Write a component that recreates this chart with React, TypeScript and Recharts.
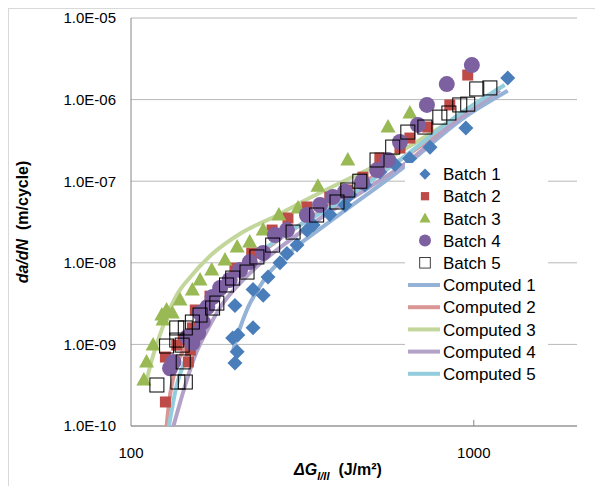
import {
  ScatterChart,
  Scatter,
  XAxis,
  YAxis,
  CartesianGrid,
  Legend,
  ReferenceLine,
} from 'recharts';

// measured points, dG (J/m2) vs da/dN (m/cycle)
const batch1 = [
  { x: 201, y: 5.9e-10 }, { x: 204, y: 8.1e-10 }, { x: 198, y: 1.2e-9 }, { x: 205, y: 1.3e-9 },
  { x: 227, y: 1.6e-9 }, { x: 201, y: 3.0e-9 }, { x: 227, y: 4.7e-9 }, { x: 243, y: 4.0e-9 },
  { x: 251, y: 6.7e-9 }, { x: 272, y: 1.0e-8 }, { x: 285, y: 1.3e-8 }, { x: 305, y: 1.65e-8 },
  { x: 326, y: 2.5e-8 }, { x: 340, y: 2.9e-8 }, { x: 380, y: 3.9e-8 }, { x: 421, y: 5.1e-8 },
  { x: 435, y: 6.8e-8 }, { x: 481, y: 9.0e-8 }, { x: 532, y: 1.3e-7 }, { x: 589, y: 1.6e-7 },
  { x: 650, y: 1.9e-7 }, { x: 745, y: 2.6e-7 }, { x: 948, y: 4.5e-7 }, { x: 1256, y: 1.84e-6 },
];

const batch2 = [
  { x: 126, y: 1.97e-10 }, { x: 126, y: 7.0e-10 }, { x: 132, y: 6.1e-10 }, { x: 136, y: 9.8e-10 },
  { x: 142, y: 1.13e-9 }, { x: 147, y: 6.1e-10 }, { x: 149, y: 8.5e-10 }, { x: 151, y: 1.59e-9 },
  { x: 154, y: 2.64e-9 }, { x: 170, y: 3.9e-9 }, { x: 201, y: 8.6e-9 }, { x: 225, y: 1.32e-8 },
  { x: 258, y: 2.52e-8 }, { x: 287, y: 3.54e-8 }, { x: 326, y: 4.83e-8 }, { x: 380, y: 6.4e-8 },
  { x: 426, y: 7.8e-8 }, { x: 475, y: 1.12e-7 }, { x: 532, y: 1.92e-7 }, { x: 609, y: 2.55e-7 },
  { x: 651, y: 3.38e-7 }, { x: 734, y: 4.61e-7 }, { x: 851, y: 8.6e-7 }, { x: 960, y: 2.0e-6 },
];

const batch3 = [
  { x: 109, y: 3.66e-10 }, { x: 111, y: 6.1e-10 }, { x: 116, y: 9.8e-10 }, { x: 123, y: 2.29e-9 },
  { x: 124, y: 1.99e-9 }, { x: 127, y: 2.64e-9 }, { x: 132, y: 2.43e-9 }, { x: 139, y: 3.5e-9 },
  { x: 151, y: 4.64e-9 }, { x: 159, y: 6.15e-9 }, { x: 172, y: 8.16e-9 }, { x: 188, y: 1.08e-8 },
  { x: 204, y: 1.56e-8 }, { x: 222, y: 1.8e-8 }, { x: 243, y: 2.52e-8 }, { x: 270, y: 3.85e-8 },
  { x: 307, y: 4.7e-8 }, { x: 351, y: 8.7e-8 }, { x: 429, y: 1.82e-7 }, { x: 562, y: 4.61e-7 },
  { x: 651, y: 6.85e-7 },
];

const batch4 = [
  { x: 130, y: 5.1e-10 }, { x: 133, y: 6.1e-10 }, { x: 146, y: 1.23e-9 }, { x: 151, y: 1.04e-9 },
  { x: 157, y: 1.38e-9 }, { x: 162, y: 1.88e-9 }, { x: 159, y: 2.43e-9 }, { x: 167, y: 2.87e-9 },
  { x: 173, y: 3.81e-9 }, { x: 182, y: 4.91e-9 }, { x: 194, y: 6.15e-9 }, { x: 208, y: 8.16e-9 },
  { x: 222, y: 1.02e-8 }, { x: 243, y: 1.32e-8 }, { x: 263, y: 2.19e-8 }, { x: 285, y: 2.52e-8 },
  { x: 326, y: 3.85e-8 }, { x: 356, y: 5.1e-8 }, { x: 388, y: 6.4e-8 }, { x: 421, y: 7.4e-8 },
  { x: 472, y: 9.8e-8 }, { x: 522, y: 1.37e-7 }, { x: 562, y: 1.82e-7 }, { x: 609, y: 3.02e-7 },
  { x: 687, y: 4.89e-7 }, { x: 730, y: 8.6e-7 }, { x: 834, y: 1.55e-6 }, { x: 987, y: 2.65e-6 },
];

const batch5 = [
  { x: 119, y: 3.18e-10 }, { x: 137, y: 3.46e-10 }, { x: 144, y: 3.46e-10 }, { x: 127, y: 9.55e-10 },
  { x: 136, y: 1.13e-9 }, { x: 141, y: 9.8e-10 }, { x: 142, y: 6.1e-10 }, { x: 144, y: 1.59e-9 },
  { x: 136, y: 1.59e-9 }, { x: 151, y: 1.88e-9 }, { x: 159, y: 2.29e-9 }, { x: 173, y: 2.79e-9 },
  { x: 178, y: 3.21e-9 }, { x: 190, y: 5.35e-9 }, { x: 198, y: 6.5e-9 }, { x: 218, y: 7.7e-9 },
  { x: 233, y: 1.18e-8 }, { x: 259, y: 1.65e-8 }, { x: 297, y: 2.38e-8 }, { x: 348, y: 3.85e-8 },
  { x: 399, y: 5.56e-8 }, { x: 429, y: 7.8e-8 }, { x: 465, y: 1.0e-7 }, { x: 522, y: 1.82e-7 },
  { x: 580, y: 2.62e-7 }, { x: 642, y: 4.0e-7 }, { x: 720, y: 4.61e-7 }, { x: 796, y: 6.1e-7 },
  { x: 846, y: 6.85e-7 }, { x: 910, y: 8.6e-7 }, { x: 960, y: 8.8e-7 }, { x: 1020, y: 1.35e-6 },
  { x: 1114, y: 1.39e-6 },
];

// model curves
const computed1 = [
  { x: 198, y: 8.1e-10 }, { x: 208, y: 1.59e-9 }, { x: 219, y: 2.79e-9 }, { x: 234, y: 4.64e-9 },
  { x: 254, y: 7.7e-9 }, { x: 281, y: 1.18e-8 }, { x: 311, y: 1.7e-8 }, { x: 356, y: 2.6e-8 },
  { x: 415, y: 4.2e-8 }, { x: 609, y: 1.37e-7 }, { x: 942, y: 6.1e-7 }, { x: 1256, y: 1.28e-6 },
];

const computed2 = [
  { x: 127, y: 1e-10 }, { x: 130, y: 2.4e-10 }, { x: 134, y: 4.6e-10 }, { x: 142, y: 8.5e-10 },
  { x: 154, y: 1.73e-9 }, { x: 170, y: 3.21e-9 }, { x: 194, y: 6.15e-9 }, { x: 230, y: 1.15e-8 },
  { x: 281, y: 2.19e-8 }, { x: 356, y: 4.2e-8 }, { x: 465, y: 9.0e-8 }, { x: 609, y: 1.82e-7 },
  { x: 851, y: 4.89e-7 }, { x: 1191, y: 1.39e-6 },
];

const computed3 = [
  { x: 110.6, y: 3.37e-10 }, { x: 115, y: 6.44e-10 }, { x: 120, y: 1.13e-9 }, { x: 127, y: 2.17e-9 },
  { x: 136, y: 4.03e-9 }, { x: 149, y: 6.7e-9 }, { x: 170, y: 1.21e-8 }, { x: 212, y: 2.38e-8 },
  { x: 272, y: 3.96e-8 }, { x: 311, y: 5.41e-8 }, { x: 407, y: 9.5e-8 }, { x: 508, y: 1.49e-7 },
  { x: 696, y: 3.2e-7 }, { x: 910, y: 6.48e-7 }, { x: 1191, y: 1.39e-6 },
];

const computed4 = [
  { x: 133, y: 1e-10 }, { x: 144, y: 3.18e-10 }, { x: 154, y: 7.41e-10 }, { x: 167, y: 1.5e-9 },
  { x: 184, y: 3.04e-9 }, { x: 208, y: 5.65e-9 }, { x: 241, y: 1.02e-8 }, { x: 291, y: 1.9e-8 },
  { x: 368, y: 3.85e-8 }, { x: 481, y: 7.8e-8 }, { x: 651, y: 1.82e-7 }, { x: 880, y: 5.31e-7 },
  { x: 1191, y: 1.31e-6 },
];

const computed5 = [
  { x: 129, y: 1e-10 }, { x: 136, y: 3.18e-10 }, { x: 144, y: 6.44e-10 }, { x: 154, y: 1.3e-9 },
  { x: 170, y: 2.79e-9 }, { x: 188, y: 4.91e-9 }, { x: 215, y: 9.4e-9 }, { x: 254, y: 1.65e-8 },
  { x: 311, y: 2.9e-8 }, { x: 415, y: 5.89e-8 }, { x: 609, y: 1.82e-7 }, { x: 910, y: 6.67e-7 },
  { x: 1231, y: 1.51e-6 },
];

const xTicks = [100, 1000];
const yTicks = [1e-10, 1e-9, 1e-8, 1e-7, 1e-6, 1e-5];

const C = {
  b1: '#4a7ebb',
  b2: '#be4b48',
  b3: '#98b954',
  b4: '#7d60a0',
  b5: '#000000',
  c1: '#95b3d7',
  c2: '#d99694',
  c3: '#c3d69b',
  c4: '#b3a2c7',
  c5: '#93cddd',
};

const FONT = '"Liberation Sans", Arial, sans-serif';

const fmtY = (v: number) => {
  const e = Math.round(Math.log10(v));
  return `1.0E${e < 0 ? '-' : '+'}${String(Math.abs(e)).padStart(2, '0')}`;
};

type Pt = { cx?: number; cy?: number };

const Diamond = ({ cx = 0, cy = 0 }: Pt) => (
  <polygon points={`${cx},${cy - 7.5} ${cx + 7.5},${cy} ${cx},${cy + 7.5} ${cx - 7.5},${cy}`} fill={C.b1} />
);
const Square = ({ cx = 0, cy = 0 }: Pt) => (
  <rect x={cx - 5.5} y={cy - 5.5} width={11} height={11} fill={C.b2} />
);
const Triangle = ({ cx = 0, cy = 0 }: Pt) => (
  <polygon points={`${cx},${cy - 8} ${cx + 7.5},${cy + 5.5} ${cx - 7.5},${cy + 5.5}`} fill={C.b3} />
);
const Dot = ({ cx = 0, cy = 0 }: Pt) => <circle cx={cx} cy={cy} r={8} fill={C.b4} />;
const OpenSquare = ({ cx = 0, cy = 0 }: Pt) => (
  <rect x={cx - 7} y={cy - 7} width={14} height={14} fill="none" stroke={C.b5} strokeWidth={1} />
);
const NoMark = () => <g />;

const legendRows = [
  { name: 'Batch 1', kind: 'mark', Mark: Diamond },
  { name: 'Batch 2', kind: 'mark', Mark: Square },
  { name: 'Batch 3', kind: 'mark', Mark: Triangle },
  { name: 'Batch 4', kind: 'mark', Mark: Dot },
  { name: 'Batch 5', kind: 'mark', Mark: OpenSquare },
  { name: 'Computed 1', kind: 'line', color: C.c1 },
  { name: 'Computed 2', kind: 'line', color: C.c2 },
  { name: 'Computed 3', kind: 'line', color: C.c3 },
  { name: 'Computed 4', kind: 'line', color: C.c4 },
  { name: 'Computed 5', kind: 'line', color: C.c5 },
];

function LegendBox() {
  const rowH = 22.2;
  return (
    <svg width={143} height={225} style={{ display: 'block', background: '#fff' }}>
      {legendRows.map((r, i) => {
        const cy = 11 + i * rowH;
        return (
          <g key={r.name}>
            {r.kind === 'mark' && r.Mark ? (
              <g transform="scale(0.75)" style={{ transformOrigin: `20px ${cy}px` }}>
                <r.Mark cx={20} cy={cy} />
              </g>
            ) : (
              <line x1={3} x2={35} y1={cy} y2={cy} stroke={r.color} strokeWidth={4} />
            )}
            <text x={38} y={cy} dy="0.36em" fontFamily={FONT} fontSize={17} fill="#000">
              {r.name}
            </text>
          </g>
        );
      })}
    </svg>
  );
}

const XTitle = () => (
  <text x={329} y={466} textAnchor="middle" fontFamily={FONT} fontWeight="bold" fontSize={16} fill="#000">
    <tspan fontStyle="italic">ΔG</tspan>
    <tspan fontStyle="italic" fontSize={11} dy={5}>I/II</tspan>
    <tspan dy={-5}>{'\u00a0\u00a0(J/m²)'}</tspan>
  </text>
);

const YTitle = () => (
  <text
    x={13}
    y={213}
    transform="rotate(-90 13 213)"
    textAnchor="middle"
    dy="0.36em"
    fontFamily={FONT}
    fontWeight="bold"
    fontSize={16}
    fill="#000"
  >
    <tspan fontStyle="italic">da/dN</tspan>
    <tspan>{'\u00a0\u00a0(m/cycle)'}</tspan>
  </text>
);

const lineSeries = [
  { name: 'Computed 1', data: computed1, color: C.c1 },
  { name: 'Computed 2', data: computed2, color: C.c2 },
  { name: 'Computed 3', data: computed3, color: C.c3 },
  { name: 'Computed 4', data: computed4, color: C.c4 },
  { name: 'Computed 5', data: computed5, color: C.c5 },
];

export default function App() {
  return (
    <div
      style={{
        width: 586,
        height: 477,
        borderLeft: '1px solid #d9d9d9',
        borderTop: '1px solid #d9d9d9',
        background: '#fff',
      }}
    >
      <ScatterChart width={586} height={476} margin={{ top: 9, right: 18, left: 0, bottom: 0 }}>
        <CartesianGrid vertical={false} stroke="#b8b8b8" />
        <XAxis
          type="number"
          dataKey="x"
          scale="log"
          domain={[100, 2000]}
          ticks={xTicks}
          allowDataOverflow
          tickLine={false}
          tickSize={0}
          tickMargin={21}
          height={59}
          stroke="#868686"
          tick={{ fill: '#000', fontSize: 15, fontFamily: FONT }}
          label={{ content: XTitle }}
        />
        <YAxis
          type="number"
          dataKey="y"
          scale="log"
          domain={[1e-10, 1e-5]}
          ticks={yTicks}
          allowDataOverflow
          tickFormatter={fmtY}
          tickLine={false}
          tickSize={0}
          tickMargin={15}
          width={122}
          stroke="#868686"
          tick={{ fill: '#000', fontSize: 15, fontFamily: FONT }}
          label={{ content: YTitle }}
        />
        <ReferenceLine
          segment={[
            { x: 1000, y: 1e-10 },
            { x: 1000, y: 1.19e-10 },
          ]}
          stroke="#868686"
        />
        {lineSeries.map((s) => (
          <Scatter
            key={s.name}
            name={s.name}
            data={s.data}
            line={{ stroke: s.color, strokeWidth: 4 }}
            lineJointType="monotoneX"
            shape={NoMark}
            isAnimationActive={false}
          />
        ))}
        <Scatter name="Batch 1" data={batch1} shape={Diamond} isAnimationActive={false} />
        <Scatter name="Batch 2" data={batch2} shape={Square} isAnimationActive={false} />
        <Scatter name="Batch 3" data={batch3} shape={Triangle} isAnimationActive={false} />
        <Scatter name="Batch 4" data={batch4} shape={Dot} isAnimationActive={false} />
        <Scatter name="Batch 5" data={batch5} shape={OpenSquare} isAnimationActive={false} />
        <Legend
          layout="vertical"
          align="center"
          verticalAlign="middle"
          content={<LegendBox />}
          wrapperStyle={{ left: 396, top: 154, width: 143, height: 225 }}
        />
      </ScatterChart>
    </div>
  );
}
